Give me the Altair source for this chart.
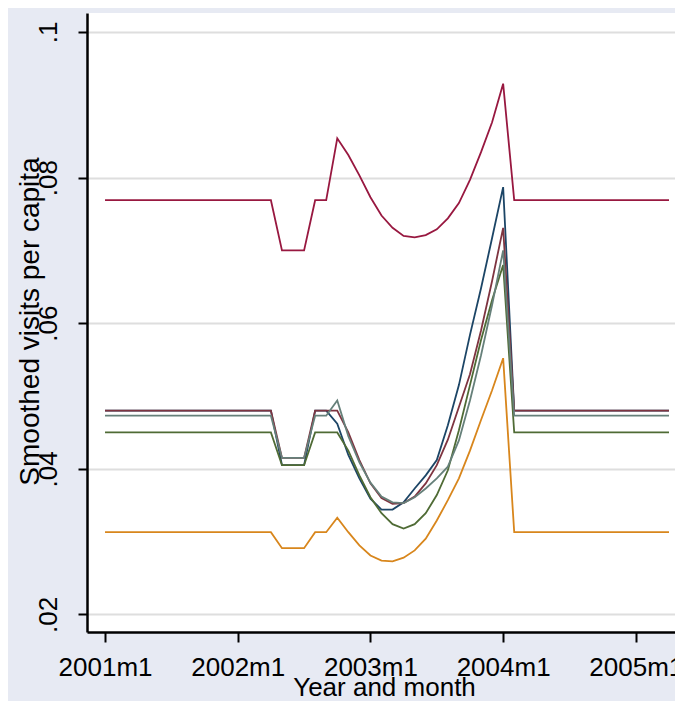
import altair as alt
import pandas as pd

# Months since 2001m1 (2001m1 .. 2005m4)
month_index = list(range(52))
x_tick_values = [0, 12, 24, 36, 48]
x_tick_labels = ["2001m1", "2002m1", "2003m1", "2004m1", "2005m1"]
y_tick_values = [0.02, 0.04, 0.06, 0.08, 0.1]

series_names = ["Series 1", "Series 2", "Series 3", "Series 4", "Series 5", "Series 6"]
series_colors = ["#1c4566", "#7e3440", "#4f6b35", "#d8861c", "#66807a", "#981840"]

s1 = ([0.0480] * 16 + [0.0405] * 3 + [0.0480] * 2 +
      [0.0462, 0.0419, 0.0387, 0.0359, 0.0344, 0.0344, 0.0354, 0.0373,
       0.0391, 0.0412, 0.0460, 0.0515, 0.0584, 0.0648, 0.0717, 0.0787] +
      [0.0480] * 15)
s2 = ([0.0480] * 16 + [0.0415] * 3 + [0.0480] * 2 +
      [0.0480, 0.0450, 0.0412, 0.0380, 0.0360, 0.0352, 0.0353, 0.0362,
       0.0380, 0.0405, 0.0440, 0.0485, 0.0530, 0.0590, 0.0658, 0.0731] +
      [0.0480] * 15)
s3 = ([0.0450] * 16 + [0.0405] * 3 + [0.0450] * 2 +
      [0.0450, 0.0425, 0.0391, 0.0361, 0.0339, 0.0324, 0.0318, 0.0324,
       0.0339, 0.0364, 0.0398, 0.0453, 0.0515, 0.0577, 0.0632, 0.0680] +
      [0.0450] * 15)
s4 = ([0.0313] * 16 + [0.0291] * 3 + [0.0313] * 2 +
      [0.0333, 0.0313, 0.0295, 0.0281, 0.0274, 0.0273, 0.0278, 0.0288,
       0.0304, 0.0329, 0.0357, 0.0387, 0.0425, 0.0467, 0.0508, 0.0552] +
      [0.0313] * 15)
s5 = ([0.0473] * 16 + [0.0415] * 3 + [0.0473] * 2 +
      [0.0494, 0.0445, 0.0409, 0.0381, 0.0362, 0.0354, 0.0353, 0.0361,
       0.0373, 0.0387, 0.0403, 0.0439, 0.0494, 0.0556, 0.0625, 0.0700] +
      [0.0473] * 15)
s6 = ([0.0769] * 16 + [0.0700] * 3 + [0.0769] * 2 +
      [0.0854, 0.0831, 0.0803, 0.0773, 0.0748, 0.0731, 0.0720, 0.0718,
       0.0721, 0.0729, 0.0744, 0.0765, 0.0797, 0.0835, 0.0876, 0.0929] +
      [0.0769] * 15)

rows = []
for name, vals in zip(series_names, [s1, s2, s3, s4, s5, s6]):
    for m, v in zip(month_index, vals):
        rows.append({"month": m, "visits": v, "series": name})
df = pd.DataFrame(rows)

FONT = "Liberation Sans"
x_label_expr = "[" + ",".join("'%s'" % t for t in x_tick_labels) + "][datum.value / 12]"

chart = alt.Chart(df).mark_line(strokeWidth=1.8).encode(
    x=alt.X("month:Q",
            scale=alt.Scale(domain=[-1.63, 51.54], nice=False, zero=False),
            axis=alt.Axis(values=x_tick_values, labelExpr=x_label_expr,
                          grid=False, tickSize=10, tickWidth=2, tickColor="black",
                          domainColor="black", domainWidth=2.5,
                          labelFont=FONT, labelFontSize=26, labelColor="black",
                          labelBaseline="alphabetic", labelPadding=33,
                          labelFlush=False, labelOverlap=False,
                          title="Year and month", titleFont=FONT, titleFontSize=26,
                          titleFontWeight="normal", titleColor="black",
                          titleBaseline="alphabetic", titleAlign="center",
                          titleX=297, titleY=63)),
    y=alt.Y("visits:Q",
            scale=alt.Scale(domain=[0.01759, 0.10261], nice=False, zero=False),
            axis=alt.Axis(values=y_tick_values,
                          labelExpr="substring(format(datum.value, '.2~f'), 1)",
                          grid=True, gridColor="#dedede", gridWidth=2,
                          tickSize=9, tickWidth=2, tickColor="black",
                          domainColor="black", domainWidth=2.5,
                          labelFont=FONT, labelFontSize=26, labelColor="black",
                          labelAngle=-90, labelAlign="center",
                          labelBaseline="alphabetic", labelPadding=22,
                          labelFlush=False, labelOverlap=False,
                          title="Smoothed visits per capita", titleFont=FONT,
                          titleFontSize=28, titleFontWeight="normal", titleColor="black",
                          titleAngle=-90, titleAlign="center", titleBaseline="alphabetic",
                          titleX=-49, titleY=308)),
    color=alt.Color("series:N",
                    scale=alt.Scale(domain=series_names, range=series_colors),
                    legend=None),
    order=alt.Order("month:Q"),
).properties(
    width=588,
    height=619,
    padding={"left": 79, "top": 5, "right": 0, "bottom": 69},
    autosize=alt.AutoSizeParams(type="none"),
    background="#e7eaf3",
).configure_view(fill="white", strokeWidth=0)

chart.save("out.html", embed_options={"renderer": "svg", "actions": False})
